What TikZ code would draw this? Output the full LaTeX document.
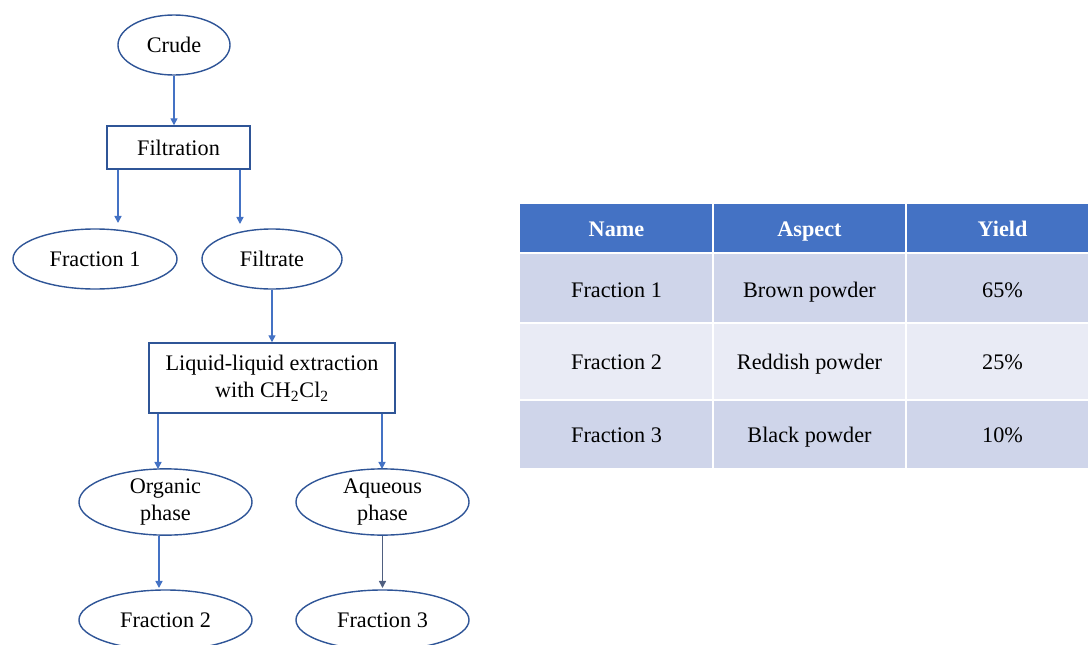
\documentclass[tikz,border=0pt]{standalone}
\usepackage{fontspec}
\setmainfont{Liberation Serif}
\usetikzlibrary{shapes.geometric,arrows.meta}
\definecolor{flowblue}{HTML}{4472C4}
\definecolor{edgeblue}{HTML}{2F5597}
\definecolor{arrgray}{HTML}{4F5F80}
\definecolor{rowdark}{HTML}{CFD5EA}
\definecolor{rowlight}{HTML}{E9EBF5}
\begin{document}
\begin{tikzpicture}[x=0.025cm, y=-0.025cm,
    every node/.style={font=\fontsize{15.8}{19.5}\selectfont},
    oval/.style={ellipse, draw=edgeblue, line width=1pt, inner sep=0pt, minimum height=1.5cm, align=center},
    stepbox/.style={rectangle, draw=edgeblue, line width=1pt, inner sep=0pt, align=center},
    arr/.style={-{Triangle[length=5pt,width=5pt]}, line width=1pt, flowblue},
    cell/.style={inner sep=0pt, text height=10.5pt, text depth=0pt},
    head/.style={inner sep=0pt, text height=10.5pt, text depth=0pt, text=white, font=\fontsize{15.8}{19}\selectfont\bfseries}]
  \useasboundingbox (0,0) rectangle (1088,645);
  \begin{scope}
  \clip (0,0) rectangle (1088,645);

  % flow chart
  \node[oval, minimum width=2.8cm] (crude) at (174,45) {Crude};
  \node[stepbox, minimum width=3.575cm, minimum height=1.075cm] (filtration) at (178.5,147.5) {Filtration};
  \node[oval, minimum width=4.1cm] (frac1) at (95,259) {Fraction 1};
  \node[oval, minimum width=3.5cm] (filtrate) at (272,259) {Filtrate};
  \node[stepbox, minimum width=6.15cm, minimum height=1.75cm] (extraction) at (272,378)
    {Liquid-liquid extraction\\with CH\textsubscript{2}Cl\textsubscript{2}};
  \node[oval, minimum width=4.325cm] (organic) at (165.5,502) {Organic\\phase};
  \node[oval, minimum width=4.325cm] (aqueous) at (382.5,502) {Aqueous\\phase};
  \node[oval, minimum width=4.325cm] (frac2) at (165.5,620) {Fraction 2};
  \node[oval, minimum width=4.325cm] (frac3) at (382.5,620) {Fraction 3};

  \coordinate (f1in) at (118,223);
  \coordinate (filin) at (240,224);
  \coordinate (orgin) at (158,469);
  \coordinate (aqin) at (382,469);
  \coordinate (f2in) at (159,588);
  \coordinate (f3in) at (382.5,588);

  \draw[arr] (crude.south) -- (crude.south |- filtration.north);
  \draw[arr] (filtration.south -| f1in) -- (f1in);
  \draw[arr] (filtration.south -| filin) -- (filin);
  \draw[arr] (filtrate.south) -- (extraction.north);
  \draw[arr] (extraction.south -| orgin) -- (orgin);
  \draw[arr] (extraction.south -| aqin) -- (aqin);
  \draw[arr] (organic.south -| f2in) -- (f2in);
  \draw[arr, arrgray] (aqueous.south) -- (f3in);

  % table
  \fill[flowblue] (520,204) rectangle (1099,252);
  \fill[rowdark] (520,254) rectangle (1099,322);
  \fill[rowlight] (520,324) rectangle (1099,399);
  \fill[rowdark] (520,401) rectangle (1099,468);
  \draw[white, line width=1.5pt] (713,204) -- (713,468) (906,204) -- (906,468);

  \node[head] (hname) at (616.5,229) {Name};
  \node[head] (haspect) at (809.5,229) {Aspect};
  \node[head] (hyield) at (1002.5,229) {Yield};
  \node[cell] (n1) at (616.5,290) {Fraction 1};
  \node[cell] (a1) at (809.5,290) {Brown powder};
  \node[cell] (y1) at (1002.5,290) {65\%};
  \node[cell] (n2) at (616.5,362) {Fraction 2};
  \node[cell] (a2) at (809.5,362) {Reddish powder};
  \node[cell] (y2) at (1002.5,362) {25\%};
  \node[cell] (n3) at (616.5,435) {Fraction 3};
  \node[cell] (a3) at (809.5,435) {Black powder};
  \node[cell] (y3) at (1002.5,435) {10\%};
  \end{scope}
\end{tikzpicture}
\end{document}
